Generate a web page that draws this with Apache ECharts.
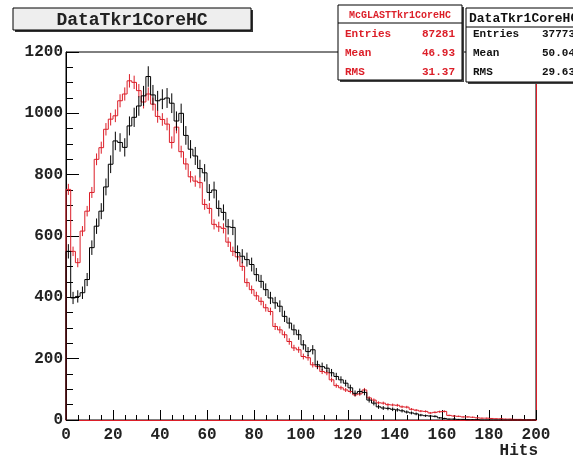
<!DOCTYPE html>
<html>
<head>
<meta charset="utf-8">
<script src="https://cdn.jsdelivr.net/npm/echarts@6/dist/echarts.min.js"></script>
<style>
  html, body { margin: 0; padding: 0; background: #fff; }
  #main { width: 573px; height: 457px; }
</style>
</head>
<body>
<div id="main"></div>
<script>
// histogram: 100 bins of width 2 from 0 to 200 (Hits)
const binWidth = 2;
const xTicks = [0, 20, 40, 60, 80, 100, 120, 140, 160, 180, 200];
const yTicks = [0, 200, 400, 600, 800, 1000, 1200];

// McGLASTTkr1CoreHC, normalised to data (red)
const mcCounts = [
  752, 550, 513, 616, 681, 742, 850, 888, 948, 981,
  992, 1041, 1063, 1106, 1101, 1074, 1037, 1063, 1030, 990,
  980, 965, 905, 955, 875, 835, 793, 779, 774, 703,
  690, 638, 630, 625, 580, 550, 532, 501, 448, 425,
  405, 387, 366, 354, 305, 294, 278, 256, 235, 229,
  207, 203, 180, 174, 158, 154, 131, 112, 105, 98,
  93, 82, 85, 98, 72, 65, 56, 55, 50, 49,
  48, 43, 42, 35, 32, 29, 28, 23, 25, 27,
  28, 15, 13, 12, 10, 10, 9, 7, 6, 6,
  5, 4, 4, 3, 3, 2, 2, 1, 1, 1
];

// DataTkr1CoreHC (black)
const dataCounts = [
  550, 398, 403, 415, 458, 562, 632, 681, 760, 834,
  910, 905, 889, 959, 987, 1024, 1057, 1120, 1060, 1041,
  1046, 1050, 1033, 975, 1000, 928, 883, 861, 820, 806,
  742, 750, 690, 677, 630, 628, 546, 534, 523, 507,
  474, 452, 425, 398, 382, 371, 338, 316, 294, 278,
  245, 223, 229, 180, 174, 169, 154, 142, 131, 120,
  105, 87, 93, 90, 65, 55, 43, 39, 38, 35,
  33, 30, 26, 23, 20, 16, 14, 13, 12, 7,
  5, 3, 3, 2, 2, 1, 1, 1, 0, 0,
  0, 0, 0, 0, 0, 0, 0, 0, 0, 0
];

// stats boxes
const mcStats = { name: 'McGLASTTkr1CoreHC', entries: '87281', mean: '46.93', rms: '31.37' };
const dataStats = { name: 'DataTkr1CoreHC', entries: '37773', mean: '50.04', rms: '29.63' };
const mcScale = 37773 / 87281; // MC weight after normalising to data

const RED = '#dc1e28';
const FONT = '"Liberation Mono", "DejaVu Sans Mono", monospace';

function toBins(counts) {
  return counts.map((v, i) => [i * binWidth + binWidth / 2, v, i ? counts[i - 1] : 0]);
}

// bin outline + vertical error bar, like ROOT "HIST E"
function histItem(color, weight) {
  return function (params, api) {
    const c = api.value(0), v = api.value(1), pv = api.value(2);
    const lo = api.coord([c - binWidth / 2, v]);
    const hi = api.coord([c + binWidth / 2, v]);
    const prev = api.coord([c - binWidth / 2, pv]);
    const err = Math.sqrt(v * weight);
    const eTop = api.coord([c, v + err]);
    const eBot = api.coord([c, Math.max(0, v - err)]);
    const style = { stroke: color, lineWidth: 1 };
    return {
      type: 'group',
      children: [
        { type: 'line', shape: { x1: prev[0], y1: prev[1], x2: lo[0], y2: lo[1] }, style },
        { type: 'line', shape: { x1: lo[0], y1: lo[1], x2: hi[0], y2: hi[1] }, style },
        { type: 'line', shape: { x1: eTop[0], y1: eTop[1], x2: eBot[0], y2: eBot[1] }, style }
      ]
    };
  };
}

function statsBox(x, y, w, h, sepY, s, headColor, textColor, headFont, headLeft, valX, valAlign) {
  const rows = [['Entries', s.entries, 34], ['Mean', s.mean, 53], ['RMS', s.rms, 72]];
  const els = [
    { type: 'rect', shape: { x: x + 2, y: y + 2, width: w, height: h }, style: { fill: '#444' }, z: 10 },
    { type: 'rect', shape: { x: x, y: y, width: w, height: h }, style: { fill: '#fff', stroke: '#000', lineWidth: 1 }, z: 11 },
    { type: 'line', shape: { x1: x, y1: sepY, x2: x + w, y2: sepY }, style: { stroke: '#000', lineWidth: 1 }, z: 12 },
    { type: 'text', x: headLeft, y: (y + sepY) / 2 + 1, z: 12,
      style: { text: s.name, fill: headColor, font: 'bold ' + headFont + 'px ' + FONT,
               textAlign: headLeft === x + w / 2 ? 'center' : 'left', textVerticalAlign: 'middle' } }
  ];
  rows.forEach(r => {
    els.push({ type: 'text', x: x + 7, y: r[2], z: 12,
      style: { text: r[0], fill: textColor, font: 'bold 11px ' + FONT, textVerticalAlign: 'middle' } });
    els.push({ type: 'text', x: valX, y: r[2], z: 12,
      style: { text: r[1], fill: textColor, font: 'bold 11px ' + FONT, textAlign: valAlign, textVerticalAlign: 'middle' } });
  });
  return els;
}

const chart = echarts.init(document.getElementById('main'));

const option = {
  animation: false,
  backgroundColor: '#fff',
  grid: { left: 66, right: 37, top: 52, bottom: 37, show: true, borderColor: '#000', borderWidth: 1, backgroundColor: 'transparent' },
  xAxis: [{
    type: 'value', min: xTicks[0], max: xTicks[xTicks.length - 1], interval: 20,
    axisLine: { show: true, onZero: false, lineStyle: { color: RED, width: 1 } },
    axisTick: { show: true, inside: true, length: 10, lineStyle: { color: '#000' } },
    minorTick: { show: true, splitNumber: 4, length: 5, lineStyle: { color: '#000' } },
    splitLine: { show: false },
    axisLabel: { color: '#222', fontFamily: FONT, fontWeight: 'bold', fontSize: 16, margin: 7,
                 formatter: v => String(v) }
  }],
  yAxis: [{
    type: 'value', min: yTicks[0], max: yTicks[yTicks.length - 1], interval: 200,
    axisLine: { show: true, lineStyle: { color: '#000', width: 1 } },
    axisTick: { show: true, inside: true, length: 13, lineStyle: { color: '#000' } },
    minorTick: { show: true, splitNumber: 4, length: 7, lineStyle: { color: '#000' } },
    splitLine: { show: false },
    axisLabel: { color: '#222', fontFamily: FONT, fontWeight: 'bold', fontSize: 16, margin: 3,
                 formatter: v => String(v) }
  }, {
    type: 'value', position: 'right', min: yTicks[0], max: yTicks[yTicks.length - 1],
    axisLine: { show: true, lineStyle: { color: RED, width: 1 } },
    axisTick: { show: false }, axisLabel: { show: false }, splitLine: { show: false }
  }],
  series: [{
    type: 'custom', name: mcStats.name, coordinateSystem: 'cartesian2d',
    renderItem: histItem(RED, mcScale), data: toBins(mcCounts), encode: { x: 0, y: 1 }, z: 3
  }, {
    type: 'custom', name: dataStats.name, coordinateSystem: 'cartesian2d',
    renderItem: histItem('#000', 1), data: toBins(dataCounts), encode: { x: 0, y: 1 }, z: 4
  }],
  graphic: [
    { type: 'rect', shape: { x: 15, y: 10, width: 238, height: 22 }, style: { fill: '#333' }, z: 10 },
    { type: 'rect', shape: { x: 13, y: 8, width: 238, height: 22 }, style: { fill: '#eeeeee', stroke: '#000', lineWidth: 1 }, z: 11 },
    { type: 'text', x: 132, y: 20, z: 12,
      style: { text: 'DataTkr1CoreHC', fill: '#222', font: 'bold 18px ' + FONT, textAlign: 'center', textVerticalAlign: 'middle' } },
    { type: 'text', x: 538, y: 451, z: 12,
      style: { text: 'Hits', fill: '#222', font: 'bold 16px ' + FONT, textAlign: 'right', textVerticalAlign: 'middle' } }
  ]
    .concat(statsBox(338, 5, 124, 75, 23, mcStats, RED, RED, 10, 400, 455, 'right'))
    .concat(statsBox(466, 8, 130, 74, 27, dataStats, '#111', '#111', 13, 469, 542, 'left'))
};

chart.setOption(option);
</script>
</body>
</html>
